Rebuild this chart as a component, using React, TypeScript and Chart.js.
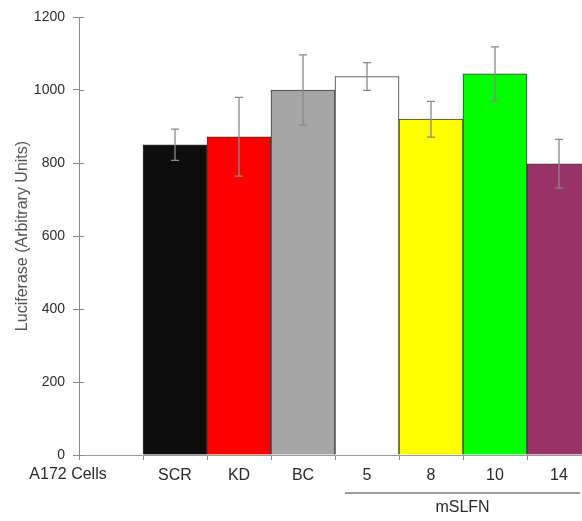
import React, { useEffect, useRef } from "react";
import { Chart, registerables } from "chart.js";

Chart.register(...registerables);

const categories = ["", "SCR", "KD", "BC", "5", "8", "10", "14"];
const values: (number | null)[] = [null, 850, 872, 1000, 1037, 920, 1044, 798];
const errors: (number | null)[] = [null, 43, 108, 96, 38, 49, 74, 67];
const barColors = ["#ffffff", "#0d0d0d", "#ff0000", "#a6a6a6", "#ffffff", "#ffff00", "#00ff00", "#993366"];
const yTicks = [0, 200, 400, 600, 800, 1000, 1200];
const groupLabel = "A172 Cells";
const subGroupLabel = "mSLFN";
const subGroupFirst = 4;
const subGroupLast = 7;
const yTitle = "Luciferase (Arbitrary Units)";

const FONT = "'Liberation Sans', Arial, sans-serif";

const errorBarPlugin = {
  id: "errorBars",
  afterDatasetsDraw(chart: any) {
    const ctx = chart.ctx;
    const meta = chart.getDatasetMeta(0);
    const y = chart.scales.y;
    ctx.save();
    ctx.beginPath();
    ctx.rect(chart.chartArea.left, 0, chart.chartArea.right - chart.chartArea.left, chart.height);
    ctx.clip();
    ctx.strokeStyle = "#8a8a8a";
    ctx.lineWidth = 1.3;
    meta.data.forEach((bar: any, i: number) => {
      const v = values[i];
      const e = errors[i];
      if (v == null || e == null) return;
      const x = bar.x;
      const yt = y.getPixelForValue(v + e);
      const yb = y.getPixelForValue(v - e);
      ctx.beginPath();
      ctx.moveTo(x, yt);
      ctx.lineTo(x, yb);
      ctx.moveTo(x - 4, yt);
      ctx.lineTo(x + 4, yt);
      ctx.moveTo(x - 4, yb);
      ctx.lineTo(x + 4, yb);
      ctx.stroke();
    });
    ctx.restore();
  },
  afterDraw(chart: any) {
    const ctx = chart.ctx;
    const x = chart.scales.x;
    const y = chart.scales.y;
    const left = chart.chartArea.left;
    ctx.save();
    ctx.strokeStyle = "#8a8a8a";
    ctx.lineWidth = 1;
    yTicks.forEach((t) => {
      const py = Math.round(y.getPixelForValue(t)) + 0.5;
      ctx.beginPath();
      ctx.moveTo(left, py);
      ctx.lineTo(left + 5, py);
      ctx.stroke();
    });
    ctx.font = "16px " + FONT;
    ctx.fillStyle = "#2a2a2a";
    ctx.textAlign = "center";
    ctx.textBaseline = "middle";
    ctx.fillText(groupLabel, 68, 475);
    const x1 = x.getPixelForValue(subGroupFirst) - 22;
    const x2 = x.getPixelForValue(subGroupLast) + 21;
    ctx.strokeStyle = "#7a7a7a";
    ctx.lineWidth = 1.5;
    ctx.beginPath();
    ctx.moveTo(x1, 493);
    ctx.lineTo(x2, 493);
    ctx.stroke();
    ctx.fillText(subGroupLabel, (x1 + x2) / 2, 508);
    ctx.restore();
  },
};

export default function App() {
  const ref = useRef<HTMLCanvasElement>(null);
  useEffect(() => {
    if (!ref.current) return;
    const chart = new Chart(ref.current, {
      type: "bar",
      data: {
        labels: categories,
        datasets: [
          {
            data: values as any,
            backgroundColor: barColors,
            borderColor: "#3a3a3a",
            borderWidth: 1,
            barPercentage: 1,
            categoryPercentage: 1,
          },
        ],
      },
      options: {
        animation: false,
        responsive: false,
        events: [],
        layout: { padding: { top: 17, right: 9, bottom: 0, left: 0 } },
        plugins: { legend: { display: false }, tooltip: { enabled: false } },
        scales: {
          x: {
            offset: true,
            grid: { display: true, offset: true, drawOnChartArea: false, tickLength: 5, color: "#8a8a8a" },
            border: { color: "#9a9a9a", width: 1 },
            ticks: { color: "#2a2a2a", font: { size: 16, family: FONT }, padding: 6, autoSkip: false, maxRotation: 0 },
            afterFit: (s: any) => {
              s.height = 66;
            },
          },
          y: {
            min: 0,
            max: 1200,
            afterBuildTicks: (s: any) => {
              s.ticks = yTicks.map((v) => ({ value: v }));
            },
            grid: { display: true, drawOnChartArea: false, tickLength: 6, color: "#8a8a8a" },
            border: { color: "#8a8a8a", width: 1 },
            ticks: { color: "#2e2e2e", font: { size: 14, family: FONT }, padding: 8, callback: (v: any) => String(v) },
            title: { display: true, text: yTitle, color: "#555555", font: { size: 16, family: FONT }, padding: { top: 13, bottom: 0 } },
            afterFit: (s: any) => {
              s.width = 79;
            },
          },
        },
      },
      plugins: [errorBarPlugin],
    });
    return () => chart.destroy();
  }, []);
  return (
    <div style={{ position: "fixed", left: 0, top: 0, width: 582, height: 521, overflow: "hidden", background: "#fff" }}>
      <canvas ref={ref} width={600} height={521} style={{ display: "block" }} />
    </div>
  );
}
